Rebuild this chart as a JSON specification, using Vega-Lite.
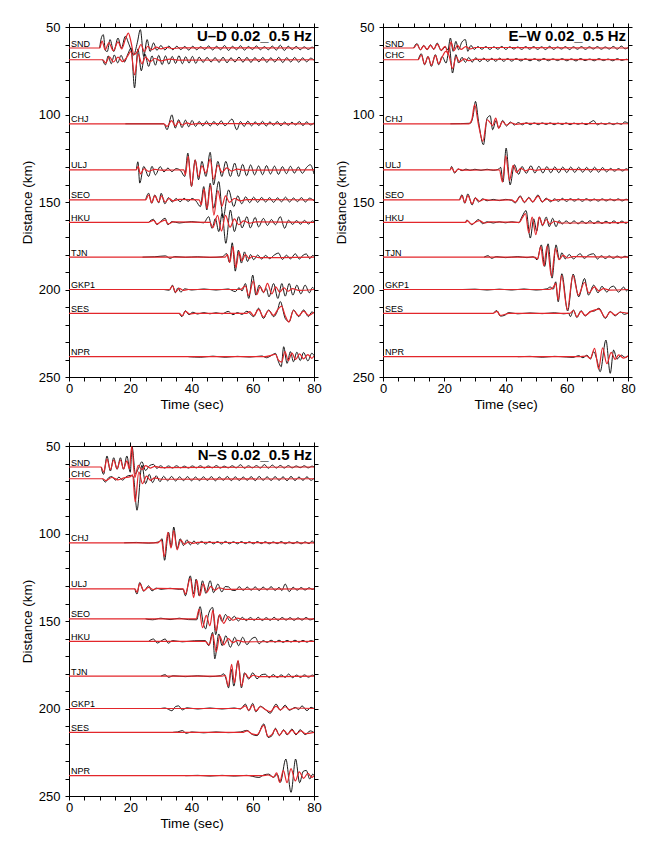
{
"$schema":"https://vega.github.io/schema/vega-lite/v6.json",
"background":"white",
"padding":{"left":19,"top":20,"right":5,"bottom":5},
"config":{"view":{"stroke":"black","strokeWidth":1},
"axis":{"grid":false,"domainColor":"black","tickColor":"black","labelColor":"black","titleColor":"black","labelFont":"Liberation Sans","titleFont":"Liberation Sans","labelFontSize":13,"titleFontSize":13.5,"titleFontWeight":"normal","tickSize":4,"domainWidth":1,"tickWidth":1,"labelFlush":false,"labelOverlap":false}},
"datasets":{
"lab":[{"s":"SND","y":62},{"s":"CHC","y":68.7},{"s":"CHJ","y":105.3},{"s":"ULJ","y":131.6},{"s":"SEO","y":148.8},{"s":"HKU","y":161.6},{"s":"TJN","y":181.5},{"s":"GKP1","y":200},{"s":"SES","y":213.6},{"s":"NPR","y":238.4}],
"U_o":[
{"i":"SND","t":10,"y":62},{"i":"SND","t":10.6,"y":56},{"i":"SND","t":11.2,"y":54.4},{"i":"SND","t":11.9,"y":63.5},{"i":"SND","t":12.5,"y":64},{"i":"SND","t":13.4,"y":57.2},{"i":"SND","t":14.6,"y":64},{"i":"SND","t":16,"y":56.3},{"i":"SND","t":17.1,"y":62},{"i":"SND","t":18.4,"y":55.3},{"i":"SND","t":19.6,"y":60},{"i":"SND","t":21.1,"y":66},{"i":"SND","t":22.3,"y":59},{"i":"SND","t":23.3,"y":51.5},{"i":"SND","t":24.4,"y":66.8},{"i":"SND","t":25.5,"y":57.2},{"i":"SND","t":26.5,"y":64},{"i":"SND","t":27.6,"y":59.1},{"i":"SND","t":28.7,"y":63.3},{"i":"SND","t":30,"y":60.6},{"i":"SND","t":31.3,"y":63.1},{"i":"SND","t":32.6,"y":60.9},{"i":"SND","t":33.9,"y":63},{"i":"SND","t":35.2,"y":61},{"i":"SND","t":36.5,"y":62.9},{"i":"SND","t":37.8,"y":61.1},{"i":"SND","t":39.1,"y":63.2},{"i":"SND","t":40.4,"y":61},{"i":"SND","t":41.7,"y":63},{"i":"SND","t":43,"y":61.2},{"i":"SND","t":44.3,"y":62.9},{"i":"SND","t":45.6,"y":60.8},{"i":"SND","t":46.9,"y":63.1},{"i":"SND","t":48.2,"y":61},{"i":"SND","t":49.5,"y":63},{"i":"SND","t":50.8,"y":60.6},{"i":"SND","t":52.1,"y":63.4},{"i":"SND","t":53.4,"y":61},{"i":"SND","t":54.7,"y":63},{"i":"SND","t":56,"y":60.7},{"i":"SND","t":57.3,"y":63.2},{"i":"SND","t":58.6,"y":61.1},{"i":"SND","t":59.9,"y":62.9},{"i":"SND","t":61.2,"y":60.8},{"i":"SND","t":62.5,"y":63},{"i":"SND","t":63.8,"y":61.2},{"i":"SND","t":65.1,"y":63},{"i":"SND","t":66.4,"y":60.9},{"i":"SND","t":67.7,"y":63.2},{"i":"SND","t":69,"y":60.4},{"i":"SND","t":70.3,"y":63.4},{"i":"SND","t":71.6,"y":61},{"i":"SND","t":72.9,"y":62.9},{"i":"SND","t":74.2,"y":61.1},{"i":"SND","t":75.5,"y":63},{"i":"SND","t":76.8,"y":61.3},{"i":"SND","t":78.1,"y":62.8},{"i":"SND","t":79.4,"y":61.5},{"i":"SND","t":80,"y":62},
{"i":"CHC","t":11,"y":68.7},{"i":"CHC","t":11.9,"y":71.6},{"i":"CHC","t":12.8,"y":66.5},{"i":"CHC","t":13.8,"y":71},{"i":"CHC","t":14.8,"y":66},{"i":"CHC","t":15.9,"y":70.5},{"i":"CHC","t":17,"y":66.2},{"i":"CHC","t":18.1,"y":70},{"i":"CHC","t":19.2,"y":65.5},{"i":"CHC","t":20.3,"y":62},{"i":"CHC","t":21.4,"y":84.8},{"i":"CHC","t":22.5,"y":62.5},{"i":"CHC","t":23.6,"y":75},{"i":"CHC","t":24.8,"y":65.5},{"i":"CHC","t":26,"y":72.5},{"i":"CHC","t":27.1,"y":66.5},{"i":"CHC","t":28.2,"y":71.8},{"i":"CHC","t":29.3,"y":66.2},{"i":"CHC","t":30.4,"y":71.5},{"i":"CHC","t":31.5,"y":66.5},{"i":"CHC","t":32.6,"y":71.2},{"i":"CHC","t":33.7,"y":66.8},{"i":"CHC","t":34.8,"y":70.8},{"i":"CHC","t":35.9,"y":66.4},{"i":"CHC","t":37,"y":71},{"i":"CHC","t":38.1,"y":67},{"i":"CHC","t":39.2,"y":70.6},{"i":"CHC","t":40.3,"y":66.8},{"i":"CHC","t":41.4,"y":70.8},{"i":"CHC","t":42.5,"y":67.2},{"i":"CHC","t":43.8,"y":70.2},{"i":"CHC","t":45.1,"y":67.4},{"i":"CHC","t":46.4,"y":70},{"i":"CHC","t":47.7,"y":67.5},{"i":"CHC","t":49,"y":70.2},{"i":"CHC","t":50.3,"y":67.3},{"i":"CHC","t":51.6,"y":70.4},{"i":"CHC","t":52.9,"y":67.6},{"i":"CHC","t":54.2,"y":70},{"i":"CHC","t":55.5,"y":67.2},{"i":"CHC","t":56.8,"y":70.1},{"i":"CHC","t":58.1,"y":67.4},{"i":"CHC","t":59.4,"y":70.2},{"i":"CHC","t":60.7,"y":67.5},{"i":"CHC","t":62,"y":69.9},{"i":"CHC","t":63.3,"y":67.4},{"i":"CHC","t":64.6,"y":70.2},{"i":"CHC","t":65.9,"y":67.6},{"i":"CHC","t":67.2,"y":70},{"i":"CHC","t":68.5,"y":67.3},{"i":"CHC","t":69.8,"y":70.3},{"i":"CHC","t":71.1,"y":67.5},{"i":"CHC","t":72.4,"y":70},{"i":"CHC","t":73.7,"y":67.4},{"i":"CHC","t":75,"y":70.1},{"i":"CHC","t":76.3,"y":67.6},{"i":"CHC","t":77.6,"y":69.9},{"i":"CHC","t":78.9,"y":67.8},{"i":"CHC","t":80,"y":69},
{"i":"CHJ","t":18.4,"y":105.3},{"i":"CHJ","t":31,"y":105.3},{"i":"CHJ","t":32,"y":108.7},{"i":"CHJ","t":33.6,"y":100.2},{"i":"CHJ","t":34.7,"y":107.8},{"i":"CHJ","t":35.8,"y":103},{"i":"CHJ","t":36.9,"y":107.5},{"i":"CHJ","t":38,"y":103.2},{"i":"CHJ","t":39.1,"y":107},{"i":"CHJ","t":40.2,"y":103.4},{"i":"CHJ","t":41.3,"y":106.8},{"i":"CHJ","t":42.5,"y":104},{"i":"CHJ","t":43.7,"y":106.5},{"i":"CHJ","t":44.9,"y":103.8},{"i":"CHJ","t":46.1,"y":106.6},{"i":"CHJ","t":47.3,"y":104},{"i":"CHJ","t":48.5,"y":106.2},{"i":"CHJ","t":49.7,"y":103.6},{"i":"CHJ","t":50.9,"y":106.4},{"i":"CHJ","t":52.1,"y":104.5},{"i":"CHJ","t":53.2,"y":102.6},{"i":"CHJ","t":54.8,"y":108.7},{"i":"CHJ","t":56,"y":104},{"i":"CHJ","t":57.2,"y":106.8},{"i":"CHJ","t":58.4,"y":103.8},{"i":"CHJ","t":59.6,"y":106.5},{"i":"CHJ","t":60.8,"y":104.2},{"i":"CHJ","t":62,"y":106.3},{"i":"CHJ","t":63.2,"y":103.9},{"i":"CHJ","t":64.4,"y":106.6},{"i":"CHJ","t":65.6,"y":104.2},{"i":"CHJ","t":66.8,"y":106.2},{"i":"CHJ","t":68,"y":104},{"i":"CHJ","t":69.2,"y":106.4},{"i":"CHJ","t":70.4,"y":104.3},{"i":"CHJ","t":71.6,"y":106.2},{"i":"CHJ","t":72.8,"y":104.4},{"i":"CHJ","t":74,"y":106},{"i":"CHJ","t":75.2,"y":104},{"i":"CHJ","t":76.4,"y":106.3},{"i":"CHJ","t":77.6,"y":104.2},{"i":"CHJ","t":78.8,"y":106},{"i":"CHJ","t":80,"y":104.8},
{"i":"ULJ","t":22,"y":131.6},{"i":"ULJ","t":22.5,"y":127},{"i":"ULJ","t":23.1,"y":139.2},{"i":"ULJ","t":24.4,"y":129.7},{"i":"ULJ","t":26,"y":135.4},{"i":"ULJ","t":27.1,"y":129.6},{"i":"ULJ","t":28.2,"y":134.5},{"i":"ULJ","t":29.8,"y":129.8},{"i":"ULJ","t":31,"y":132.8},{"i":"ULJ","t":32.3,"y":130.6},{"i":"ULJ","t":33.6,"y":132.6},{"i":"ULJ","t":35,"y":130.9},{"i":"ULJ","t":36.5,"y":132.2},{"i":"ULJ","t":37.8,"y":135.4},{"i":"ULJ","t":38.8,"y":122.1},{"i":"ULJ","t":40,"y":141.1},{"i":"ULJ","t":41.2,"y":125.9},{"i":"ULJ","t":42.3,"y":137.3},{"i":"ULJ","t":43.4,"y":126.8},{"i":"ULJ","t":44.7,"y":135.4},{"i":"ULJ","t":46.1,"y":121.6},{"i":"ULJ","t":47.2,"y":140.2},{"i":"ULJ","t":48.6,"y":126.8},{"i":"ULJ","t":49.9,"y":135.4},{"i":"ULJ","t":51.2,"y":126.8},{"i":"ULJ","t":52.7,"y":135.4},{"i":"ULJ","t":54.1,"y":127.8},{"i":"ULJ","t":55.4,"y":135.4},{"i":"ULJ","t":56.7,"y":128.5},{"i":"ULJ","t":58,"y":135},{"i":"ULJ","t":59.3,"y":128.8},{"i":"ULJ","t":60.6,"y":134.5},{"i":"ULJ","t":61.9,"y":129.4},{"i":"ULJ","t":63.2,"y":134.4},{"i":"ULJ","t":64.5,"y":129.2},{"i":"ULJ","t":65.8,"y":134},{"i":"ULJ","t":67.1,"y":129.5},{"i":"ULJ","t":68.4,"y":134.2},{"i":"ULJ","t":69.7,"y":129.8},{"i":"ULJ","t":71,"y":133.8},{"i":"ULJ","t":72.3,"y":129.6},{"i":"ULJ","t":73.6,"y":133.5},{"i":"ULJ","t":74.9,"y":130},{"i":"ULJ","t":76.2,"y":133.6},{"i":"ULJ","t":77.5,"y":130.4},{"i":"ULJ","t":78.8,"y":128.7},{"i":"ULJ","t":80,"y":134},
{"i":"SEO","t":25,"y":148.8},{"i":"SEO","t":26,"y":145},{"i":"SEO","t":27,"y":150.7},{"i":"SEO","t":28,"y":146},{"i":"SEO","t":29.3,"y":150.5},{"i":"SEO","t":30.1,"y":145},{"i":"SEO","t":31.3,"y":151},{"i":"SEO","t":32.5,"y":147.5},{"i":"SEO","t":33.7,"y":150},{"i":"SEO","t":35,"y":148},{"i":"SEO","t":36.3,"y":149.8},{"i":"SEO","t":37.6,"y":147.9},{"i":"SEO","t":38.9,"y":149.6},{"i":"SEO","t":40.2,"y":148},{"i":"SEO","t":41.5,"y":149.5},{"i":"SEO","t":42.9,"y":152.6},{"i":"SEO","t":44,"y":141.2},{"i":"SEO","t":45,"y":154.5},{"i":"SEO","t":46.1,"y":139.3},{"i":"SEO","t":47.2,"y":153.5},{"i":"SEO","t":48.9,"y":138.3},{"i":"SEO","t":50.3,"y":159},{"i":"SEO","t":52.1,"y":143.1},{"i":"SEO","t":53.8,"y":152.6},{"i":"SEO","t":55.1,"y":146.5},{"i":"SEO","t":56.4,"y":151},{"i":"SEO","t":57.7,"y":147},{"i":"SEO","t":59,"y":150.4},{"i":"SEO","t":60.3,"y":147.2},{"i":"SEO","t":61.6,"y":150.2},{"i":"SEO","t":62.9,"y":147.4},{"i":"SEO","t":64.2,"y":150},{"i":"SEO","t":65.5,"y":147.5},{"i":"SEO","t":66.8,"y":150.2},{"i":"SEO","t":68.1,"y":147.6},{"i":"SEO","t":69.4,"y":149.9},{"i":"SEO","t":70.7,"y":147.2},{"i":"SEO","t":72,"y":150},{"i":"SEO","t":73.3,"y":147.7},{"i":"SEO","t":74.6,"y":149.8},{"i":"SEO","t":75.9,"y":147.5},{"i":"SEO","t":77.2,"y":150},{"i":"SEO","t":78.5,"y":147.8},{"i":"SEO","t":80,"y":149.3},
{"i":"HKU","t":26,"y":161.6},{"i":"HKU","t":27.6,"y":159.9},{"i":"HKU","t":28.7,"y":162.9},{"i":"HKU","t":30,"y":161},{"i":"HKU","t":31.4,"y":159.3},{"i":"HKU","t":32.3,"y":163},{"i":"HKU","t":33.6,"y":161.2},{"i":"HKU","t":36,"y":162},{"i":"HKU","t":40,"y":161.2},{"i":"HKU","t":44,"y":161.9},{"i":"HKU","t":45.6,"y":158.4},{"i":"HKU","t":46.7,"y":165},{"i":"HKU","t":47.8,"y":159.5},{"i":"HKU","t":48.9,"y":166.9},{"i":"HKU","t":50,"y":156.6},{"i":"HKU","t":51.2,"y":173.6},{"i":"HKU","t":52.7,"y":154.6},{"i":"HKU","t":54,"y":166.9},{"i":"HKU","t":55.4,"y":158.4},{"i":"HKU","t":56.5,"y":164.8},{"i":"HKU","t":58.1,"y":158.4},{"i":"HKU","t":59.2,"y":164.8},{"i":"HKU","t":60.8,"y":158.8},{"i":"HKU","t":61.9,"y":164.2},{"i":"HKU","t":63.5,"y":159.4},{"i":"HKU","t":64.8,"y":163.4},{"i":"HKU","t":66.1,"y":160},{"i":"HKU","t":67.4,"y":163},{"i":"HKU","t":69,"y":158.4},{"i":"HKU","t":70.4,"y":165},{"i":"HKU","t":71.7,"y":160.4},{"i":"HKU","t":73,"y":162.8},{"i":"HKU","t":74.3,"y":160.6},{"i":"HKU","t":75.6,"y":162.7},{"i":"HKU","t":76.9,"y":160.5},{"i":"HKU","t":78.2,"y":162.6},{"i":"HKU","t":79.5,"y":160.8},{"i":"HKU","t":80,"y":161.3},
{"i":"TJN","t":24,"y":181.5},{"i":"TJN","t":28,"y":181.3},{"i":"TJN","t":31.5,"y":180.8},{"i":"TJN","t":33,"y":182.2},{"i":"TJN","t":34.5,"y":181.2},{"i":"TJN","t":38,"y":181.6},{"i":"TJN","t":42,"y":181.3},{"i":"TJN","t":46,"y":181.7},{"i":"TJN","t":50,"y":181.3},{"i":"TJN","t":51.5,"y":179.5},{"i":"TJN","t":52.4,"y":184.5},{"i":"TJN","t":53.3,"y":173.3},{"i":"TJN","t":54.3,"y":189.5},{"i":"TJN","t":55.3,"y":177.5},{"i":"TJN","t":56.3,"y":184.9},{"i":"TJN","t":57.3,"y":178.5},{"i":"TJN","t":58.3,"y":184},{"i":"TJN","t":59.3,"y":180},{"i":"TJN","t":60.3,"y":183},{"i":"TJN","t":61.6,"y":180.3},{"i":"TJN","t":62.9,"y":182.6},{"i":"TJN","t":64.2,"y":180.5},{"i":"TJN","t":65.5,"y":182.4},{"i":"TJN","t":66.8,"y":180.6},{"i":"TJN","t":68.4,"y":179.2},{"i":"TJN","t":69.7,"y":182.8},{"i":"TJN","t":71,"y":180.4},{"i":"TJN","t":72.3,"y":182.5},{"i":"TJN","t":73.9,"y":179.6},{"i":"TJN","t":75.2,"y":182.6},{"i":"TJN","t":76.5,"y":180.3},{"i":"TJN","t":77.5,"y":179.7},{"i":"TJN","t":78.6,"y":182.4},{"i":"TJN","t":79.6,"y":180.5},{"i":"TJN","t":80,"y":181},
{"i":"GKP1","t":31,"y":200},{"i":"GKP1","t":32.8,"y":200.4},{"i":"GKP1","t":33.8,"y":197.5},{"i":"GKP1","t":34.7,"y":201.9},{"i":"GKP1","t":35.6,"y":199},{"i":"GKP1","t":36.5,"y":201.5},{"i":"GKP1","t":37.8,"y":199.6},{"i":"GKP1","t":40,"y":200.3},{"i":"GKP1","t":44,"y":199.7},{"i":"GKP1","t":48,"y":200.3},{"i":"GKP1","t":52,"y":199.7},{"i":"GKP1","t":54.3,"y":201.2},{"i":"GKP1","t":55.5,"y":199},{"i":"GKP1","t":56.5,"y":200.8},{"i":"GKP1","t":57.6,"y":196.6},{"i":"GKP1","t":58.7,"y":205.1},{"i":"GKP1","t":60,"y":191.8},{"i":"GKP1","t":61,"y":203.2},{"i":"GKP1","t":62.1,"y":197.5},{"i":"GKP1","t":63.5,"y":201.8},{"i":"GKP1","t":64.4,"y":199.4},{"i":"GKP1","t":65.3,"y":204.2},{"i":"GKP1","t":66.8,"y":196.6},{"i":"GKP1","t":68.2,"y":205.1},{"i":"GKP1","t":69.5,"y":196.6},{"i":"GKP1","t":70.6,"y":203.8},{"i":"GKP1","t":71.9,"y":196.6},{"i":"GKP1","t":73.1,"y":203.2},{"i":"GKP1","t":74.4,"y":197.5},{"i":"GKP1","t":75.7,"y":202.5},{"i":"GKP1","t":77.1,"y":197.5},{"i":"GKP1","t":78.5,"y":201.9},{"i":"GKP1","t":79.5,"y":198.8},{"i":"GKP1","t":80,"y":199.5},
{"i":"SES","t":36,"y":213.6},{"i":"SES","t":36.9,"y":215.5},{"i":"SES","t":38,"y":212.1},{"i":"SES","t":39.2,"y":214.4},{"i":"SES","t":40.4,"y":213},{"i":"SES","t":42,"y":214},{"i":"SES","t":44,"y":213.2},{"i":"SES","t":46,"y":213.9},{"i":"SES","t":48,"y":213.3},{"i":"SES","t":50,"y":213.9},{"i":"SES","t":52,"y":212.5},{"i":"SES","t":53.5,"y":214.4},{"i":"SES","t":55,"y":213.2},{"i":"SES","t":56.5,"y":214.2},{"i":"SES","t":58.1,"y":212.4},{"i":"SES","t":60.3,"y":215.5},{"i":"SES","t":61.9,"y":210.7},{"i":"SES","t":63.5,"y":216.5},{"i":"SES","t":65.2,"y":211.7},{"i":"SES","t":66.8,"y":215.5},{"i":"SES","t":68,"y":212.5},{"i":"SES","t":69,"y":206.9},{"i":"SES","t":70.6,"y":216.5},{"i":"SES","t":71.9,"y":218.4},{"i":"SES","t":73.3,"y":211.7},{"i":"SES","t":75,"y":215.5},{"i":"SES","t":76.6,"y":211.7},{"i":"SES","t":78.2,"y":215.5},{"i":"SES","t":79.3,"y":212.8},{"i":"SES","t":80,"y":213.5},
{"i":"NPR","t":39,"y":238.4},{"i":"NPR","t":43,"y":238.7},{"i":"NPR","t":47,"y":238.1},{"i":"NPR","t":51,"y":238.7},{"i":"NPR","t":55,"y":238.2},{"i":"NPR","t":59,"y":238.6},{"i":"NPR","t":63,"y":238},{"i":"NPR","t":64.5,"y":239},{"i":"NPR","t":66,"y":237.8},{"i":"NPR","t":67.4,"y":236.5},{"i":"NPR","t":68.4,"y":241.3},{"i":"NPR","t":69.3,"y":244.1},{"i":"NPR","t":70.1,"y":232.7},{"i":"NPR","t":71.2,"y":242.2},{"i":"NPR","t":72.3,"y":235.5},{"i":"NPR","t":73.3,"y":241.3},{"i":"NPR","t":74.4,"y":235.8},{"i":"NPR","t":75.5,"y":240.6},{"i":"NPR","t":76.6,"y":236},{"i":"NPR","t":78,"y":240.8},{"i":"NPR","t":79.3,"y":236.4},{"i":"NPR","t":80,"y":237.8}
],
"U_s":[
{"i":"SND","t":0,"y":62},{"i":"SND","t":10,"y":62},{"i":"SND","t":10.8,"y":58},{"i":"SND","t":11.8,"y":63},{"i":"SND","t":13,"y":59},{"i":"SND","t":14.5,"y":63.5},{"i":"SND","t":16,"y":58.5},{"i":"SND","t":17.2,"y":62.5},{"i":"SND","t":18.4,"y":57},{"i":"SND","t":19.4,"y":53.5},{"i":"SND","t":20.3,"y":59},{"i":"SND","t":21.2,"y":65.8},{"i":"SND","t":22.5,"y":63.5},{"i":"SND","t":23.5,"y":60},{"i":"SND","t":24.6,"y":64},{"i":"SND","t":25.7,"y":61},{"i":"SND","t":27,"y":63},{"i":"SND","t":28.5,"y":61.5},{"i":"SND","t":30,"y":62.5},{"i":"SND","t":32,"y":61.6},{"i":"SND","t":34,"y":62.4},{"i":"SND","t":36,"y":61.9},{"i":"SND","t":80,"y":62},
{"i":"CHC","t":0,"y":68.7},{"i":"CHC","t":11,"y":68.7},{"i":"CHC","t":12,"y":70.5},{"i":"CHC","t":13.2,"y":67},{"i":"CHC","t":14.5,"y":70},{"i":"CHC","t":16,"y":67.2},{"i":"CHC","t":17.5,"y":69.8},{"i":"CHC","t":19,"y":67},{"i":"CHC","t":20.2,"y":64},{"i":"CHC","t":21.4,"y":77.3},{"i":"CHC","t":22.6,"y":65.7},{"i":"CHC","t":23.8,"y":71},{"i":"CHC","t":25,"y":67.2},{"i":"CHC","t":26.5,"y":69.8},{"i":"CHC","t":28,"y":68},{"i":"CHC","t":30,"y":69.3},{"i":"CHC","t":33,"y":68.3},{"i":"CHC","t":36,"y":68.9},{"i":"CHC","t":80,"y":68.7},
{"i":"CHJ","t":0,"y":105.3},{"i":"CHJ","t":31,"y":105.3},{"i":"CHJ","t":32,"y":106.8},{"i":"CHJ","t":33.5,"y":103.5},{"i":"CHJ","t":34.7,"y":106.5},{"i":"CHJ","t":35.8,"y":104.2},{"i":"CHJ","t":37,"y":106},{"i":"CHJ","t":38.5,"y":104.8},{"i":"CHJ","t":40,"y":105.6},{"i":"CHJ","t":42,"y":105.2},{"i":"CHJ","t":80,"y":105.3},
{"i":"ULJ","t":0,"y":131.6},{"i":"ULJ","t":22,"y":131.6},{"i":"ULJ","t":22.6,"y":129.6},{"i":"ULJ","t":23.3,"y":134},{"i":"ULJ","t":24.5,"y":131},{"i":"ULJ","t":26,"y":132.5},{"i":"ULJ","t":28,"y":131.3},{"i":"ULJ","t":30,"y":131.8},{"i":"ULJ","t":37.5,"y":131.6},{"i":"ULJ","t":38,"y":134.6},{"i":"ULJ","t":38.9,"y":123.8},{"i":"ULJ","t":40,"y":141},{"i":"ULJ","t":41.2,"y":126},{"i":"ULJ","t":42.3,"y":135.6},{"i":"ULJ","t":43.4,"y":129.4},{"i":"ULJ","t":44.7,"y":133.5},{"i":"ULJ","t":46.1,"y":125.5},{"i":"ULJ","t":47.2,"y":137},{"i":"ULJ","t":48.6,"y":129},{"i":"ULJ","t":50,"y":133},{"i":"ULJ","t":51.5,"y":130.5},{"i":"ULJ","t":53,"y":132.3},{"i":"ULJ","t":55,"y":131.2},{"i":"ULJ","t":57,"y":131.8},{"i":"ULJ","t":80,"y":131.6},
{"i":"SEO","t":0,"y":148.8},{"i":"SEO","t":25,"y":148.8},{"i":"SEO","t":26,"y":146},{"i":"SEO","t":27,"y":150.3},{"i":"SEO","t":28,"y":146.5},{"i":"SEO","t":29.3,"y":150},{"i":"SEO","t":30.2,"y":146.5},{"i":"SEO","t":31.4,"y":150},{"i":"SEO","t":32.7,"y":148},{"i":"SEO","t":34,"y":149.4},{"i":"SEO","t":36,"y":148.5},{"i":"SEO","t":42.5,"y":148.8},{"i":"SEO","t":43.2,"y":151.5},{"i":"SEO","t":44.1,"y":142.5},{"i":"SEO","t":45.1,"y":153.8},{"i":"SEO","t":46.2,"y":140.5},{"i":"SEO","t":47.3,"y":157.5},{"i":"SEO","t":48.6,"y":143.5},{"i":"SEO","t":49.9,"y":152.5},{"i":"SEO","t":51.1,"y":146.5},{"i":"SEO","t":52.4,"y":150.2},{"i":"SEO","t":54,"y":148},{"i":"SEO","t":56,"y":149.3},{"i":"SEO","t":58,"y":148.6},{"i":"SEO","t":80,"y":148.8},
{"i":"HKU","t":0,"y":161.6},{"i":"HKU","t":26,"y":161.6},{"i":"HKU","t":27.6,"y":160.5},{"i":"HKU","t":28.7,"y":162.5},{"i":"HKU","t":30,"y":161.3},{"i":"HKU","t":31.4,"y":160.3},{"i":"HKU","t":32.4,"y":162.5},{"i":"HKU","t":34,"y":161.4},{"i":"HKU","t":46,"y":161.6},{"i":"HKU","t":47,"y":164.6},{"i":"HKU","t":48.5,"y":157.6},{"i":"HKU","t":49.8,"y":166.6},{"i":"HKU","t":51.1,"y":157.6},{"i":"HKU","t":52.6,"y":164.4},{"i":"HKU","t":54,"y":159.6},{"i":"HKU","t":55.4,"y":163},{"i":"HKU","t":57,"y":160.8},{"i":"HKU","t":59,"y":162.1},{"i":"HKU","t":61,"y":161.3},{"i":"HKU","t":80,"y":161.6},
{"i":"TJN","t":0,"y":181.5},{"i":"TJN","t":51,"y":181.5},{"i":"TJN","t":51.7,"y":180},{"i":"TJN","t":52.5,"y":184.5},{"i":"TJN","t":53.5,"y":175.5},{"i":"TJN","t":54.5,"y":187.5},{"i":"TJN","t":55.5,"y":178.5},{"i":"TJN","t":56.5,"y":183.5},{"i":"TJN","t":57.6,"y":180},{"i":"TJN","t":58.8,"y":182.3},{"i":"TJN","t":60,"y":181},{"i":"TJN","t":62,"y":181.8},{"i":"TJN","t":80,"y":181.5},
{"i":"GKP1","t":0,"y":200},{"i":"GKP1","t":32.8,"y":200},{"i":"GKP1","t":33.8,"y":198},{"i":"GKP1","t":34.8,"y":201.5},{"i":"GKP1","t":36,"y":199.4},{"i":"GKP1","t":37.5,"y":200.5},{"i":"GKP1","t":39,"y":200},{"i":"GKP1","t":56,"y":200},{"i":"GKP1","t":57.6,"y":198},{"i":"GKP1","t":58.7,"y":203.5},{"i":"GKP1","t":60.2,"y":195},{"i":"GKP1","t":61.3,"y":203},{"i":"GKP1","t":62.4,"y":198.5},{"i":"GKP1","t":63.6,"y":201.5},{"i":"GKP1","t":64.8,"y":196.5},{"i":"GKP1","t":66.2,"y":202.5},{"i":"GKP1","t":67.5,"y":198.5},{"i":"GKP1","t":68.8,"y":201.5},{"i":"GKP1","t":70.2,"y":199},{"i":"GKP1","t":71.5,"y":201},{"i":"GKP1","t":73,"y":199.5},{"i":"GKP1","t":75,"y":200.5},{"i":"GKP1","t":80,"y":200},
{"i":"SES","t":0,"y":213.6},{"i":"SES","t":36,"y":213.6},{"i":"SES","t":37,"y":215},{"i":"SES","t":38,"y":212.5},{"i":"SES","t":39.5,"y":214},{"i":"SES","t":41,"y":213.6},{"i":"SES","t":58,"y":213.6},{"i":"SES","t":59,"y":212.6},{"i":"SES","t":60.3,"y":215},{"i":"SES","t":61.9,"y":211.4},{"i":"SES","t":63.5,"y":215.8},{"i":"SES","t":65.2,"y":212},{"i":"SES","t":66.8,"y":214.8},{"i":"SES","t":68.2,"y":211.4},{"i":"SES","t":69.4,"y":209.5},{"i":"SES","t":70.5,"y":214.5},{"i":"SES","t":71.8,"y":218.6},{"i":"SES","t":73.3,"y":212},{"i":"SES","t":75,"y":215},{"i":"SES","t":76.6,"y":212.3},{"i":"SES","t":78.2,"y":214.8},{"i":"SES","t":80,"y":213},
{"i":"NPR","t":0,"y":238.4},{"i":"NPR","t":64,"y":238.4},{"i":"NPR","t":66,"y":237.6},{"i":"NPR","t":67.4,"y":237},{"i":"NPR","t":68.4,"y":240.4},{"i":"NPR","t":69.4,"y":241.5},{"i":"NPR","t":70.5,"y":235.5},{"i":"NPR","t":71.6,"y":240.6},{"i":"NPR","t":72.8,"y":236.3},{"i":"NPR","t":74,"y":240},{"i":"NPR","t":75.3,"y":236.8},{"i":"NPR","t":76.6,"y":239.6},{"i":"NPR","t":78,"y":237.2},{"i":"NPR","t":79.3,"y":239.3},{"i":"NPR","t":80,"y":238}
],
"E_o":[
{"i":"SND","t":10,"y":62},{"i":"SND","t":11.1,"y":59.5},{"i":"SND","t":12.2,"y":63},{"i":"SND","t":13.3,"y":60.5},{"i":"SND","t":14.4,"y":63},{"i":"SND","t":15.5,"y":60.2},{"i":"SND","t":16.6,"y":62.8},{"i":"SND","t":17.7,"y":59.2},{"i":"SND","t":19,"y":63.5},{"i":"SND","t":20.3,"y":61.5},{"i":"SND","t":21.2,"y":63},{"i":"SND","t":22,"y":56.3},{"i":"SND","t":22.9,"y":63.9},{"i":"SND","t":23.8,"y":58.2},{"i":"SND","t":24.7,"y":63},{"i":"SND","t":25.7,"y":58.8},{"i":"SND","t":26.9,"y":57.2},{"i":"SND","t":27.7,"y":63.9},{"i":"SND","t":28.7,"y":60.5},{"i":"SND","t":29.8,"y":62.8},{"i":"SND","t":31,"y":61.2},{"i":"SND","t":32.3,"y":62.7},{"i":"SND","t":33.6,"y":61.2},{"i":"SND","t":34.9,"y":62.8},{"i":"SND","t":36.2,"y":61.3},{"i":"SND","t":37.5,"y":62.7},{"i":"SND","t":38.8,"y":61.1},{"i":"SND","t":40.1,"y":62.8},{"i":"SND","t":41.4,"y":61.3},{"i":"SND","t":42.7,"y":62.6},{"i":"SND","t":44,"y":61.4},{"i":"SND","t":45.3,"y":62.8},{"i":"SND","t":46.6,"y":61.2},{"i":"SND","t":47.9,"y":62.7},{"i":"SND","t":49.2,"y":61.2},{"i":"SND","t":50.5,"y":62.8},{"i":"SND","t":51.8,"y":61.3},{"i":"SND","t":53.1,"y":62.9},{"i":"SND","t":54.4,"y":61},{"i":"SND","t":55.7,"y":62.8},{"i":"SND","t":57,"y":61.4},{"i":"SND","t":58.3,"y":62.6},{"i":"SND","t":59.6,"y":61.2},{"i":"SND","t":60.9,"y":62.9},{"i":"SND","t":62.2,"y":61.3},{"i":"SND","t":63.5,"y":62.7},{"i":"SND","t":64.8,"y":61.2},{"i":"SND","t":66.1,"y":62.8},{"i":"SND","t":67.4,"y":61.3},{"i":"SND","t":68.7,"y":62.6},{"i":"SND","t":70,"y":61.2},{"i":"SND","t":71.3,"y":62.7},{"i":"SND","t":72.6,"y":61.4},{"i":"SND","t":73.9,"y":62.6},{"i":"SND","t":75.2,"y":61.1},{"i":"SND","t":76.5,"y":62.7},{"i":"SND","t":77.8,"y":60.9},{"i":"SND","t":79.1,"y":62.5},{"i":"SND","t":80,"y":61.8},
{"i":"CHC","t":11.5,"y":68.7},{"i":"CHC","t":12.5,"y":65.3},{"i":"CHC","t":13.6,"y":71.6},{"i":"CHC","t":14.7,"y":66.8},{"i":"CHC","t":15.8,"y":72.5},{"i":"CHC","t":17.1,"y":65.8},{"i":"CHC","t":18.2,"y":71.6},{"i":"CHC","t":19.3,"y":66.8},{"i":"CHC","t":20.6,"y":70.6},{"i":"CHC","t":21.7,"y":62},{"i":"CHC","t":22.7,"y":76.3},{"i":"CHC","t":23.8,"y":65.8},{"i":"CHC","t":24.7,"y":70.6},{"i":"CHC","t":25.8,"y":67.3},{"i":"CHC","t":26.9,"y":70.2},{"i":"CHC","t":28,"y":67.4},{"i":"CHC","t":29.1,"y":70.1},{"i":"CHC","t":30.3,"y":67.6},{"i":"CHC","t":31.6,"y":69.8},{"i":"CHC","t":32.9,"y":67.8},{"i":"CHC","t":34.2,"y":69.7},{"i":"CHC","t":35.5,"y":67.9},{"i":"CHC","t":36.8,"y":69.6},{"i":"CHC","t":38.1,"y":67.8},{"i":"CHC","t":39.4,"y":69.6},{"i":"CHC","t":40.7,"y":68},{"i":"CHC","t":42,"y":69.5},{"i":"CHC","t":43.5,"y":68},{"i":"CHC","t":45,"y":69.4},{"i":"CHC","t":46.5,"y":68.1},{"i":"CHC","t":48,"y":69.3},{"i":"CHC","t":49.5,"y":68.1},{"i":"CHC","t":51,"y":69.4},{"i":"CHC","t":52.5,"y":68},{"i":"CHC","t":54,"y":69.3},{"i":"CHC","t":55.5,"y":68.2},{"i":"CHC","t":57,"y":69.2},{"i":"CHC","t":58.5,"y":68.1},{"i":"CHC","t":60,"y":69.3},{"i":"CHC","t":61.5,"y":68.2},{"i":"CHC","t":63,"y":69.4},{"i":"CHC","t":64.5,"y":68},{"i":"CHC","t":66,"y":69.2},{"i":"CHC","t":67.5,"y":68.3},{"i":"CHC","t":69,"y":69.3},{"i":"CHC","t":70.5,"y":68.1},{"i":"CHC","t":72,"y":69.2},{"i":"CHC","t":73.5,"y":68.3},{"i":"CHC","t":75,"y":69.3},{"i":"CHC","t":76.5,"y":68.1},{"i":"CHC","t":78,"y":69.1},{"i":"CHC","t":79.5,"y":68.4},{"i":"CHC","t":80,"y":68.7},
{"i":"CHJ","t":22,"y":105.3},{"i":"CHJ","t":28.5,"y":105},{"i":"CHJ","t":29.4,"y":101},{"i":"CHJ","t":30.2,"y":92.5},{"i":"CHJ","t":31.2,"y":104},{"i":"CHJ","t":32.8,"y":117.3},{"i":"CHJ","t":34,"y":102.1},{"i":"CHJ","t":35,"y":100.7},{"i":"CHJ","t":35.8,"y":108.7},{"i":"CHJ","t":36.9,"y":103.4},{"i":"CHJ","t":37.8,"y":107.8},{"i":"CHJ","t":39.1,"y":103.4},{"i":"CHJ","t":40.3,"y":106.6},{"i":"CHJ","t":41.6,"y":104.3},{"i":"CHJ","t":42.9,"y":106},{"i":"CHJ","t":44.2,"y":104.6},{"i":"CHJ","t":45.5,"y":105.9},{"i":"CHJ","t":46.8,"y":104.7},{"i":"CHJ","t":48.1,"y":105.8},{"i":"CHJ","t":49.4,"y":104.8},{"i":"CHJ","t":50.7,"y":105.8},{"i":"CHJ","t":52,"y":104.8},{"i":"CHJ","t":53.3,"y":105.7},{"i":"CHJ","t":54.6,"y":104.8},{"i":"CHJ","t":55.9,"y":105.8},{"i":"CHJ","t":57.2,"y":104.9},{"i":"CHJ","t":58.5,"y":105.7},{"i":"CHJ","t":59.8,"y":104.8},{"i":"CHJ","t":61.1,"y":105.8},{"i":"CHJ","t":62.4,"y":104.9},{"i":"CHJ","t":63.7,"y":105.6},{"i":"CHJ","t":65,"y":104.9},{"i":"CHJ","t":66.3,"y":105.8},{"i":"CHJ","t":67.6,"y":104.6},{"i":"CHJ","t":68.8,"y":103.5},{"i":"CHJ","t":70,"y":105.9},{"i":"CHJ","t":71.3,"y":104.9},{"i":"CHJ","t":72.6,"y":105.7},{"i":"CHJ","t":73.9,"y":104.8},{"i":"CHJ","t":75.2,"y":105.8},{"i":"CHJ","t":76.5,"y":104.9},{"i":"CHJ","t":77.8,"y":105.6},{"i":"CHJ","t":79,"y":104.2},{"i":"CHJ","t":80,"y":105},
{"i":"ULJ","t":22,"y":131.6},{"i":"ULJ","t":22.4,"y":129.7},{"i":"ULJ","t":23.4,"y":133.5},{"i":"ULJ","t":24.5,"y":131.1},{"i":"ULJ","t":25.8,"y":132.1},{"i":"ULJ","t":27.1,"y":131.2},{"i":"ULJ","t":28.4,"y":131.9},{"i":"ULJ","t":30,"y":131.3},{"i":"ULJ","t":32,"y":131.9},{"i":"ULJ","t":34,"y":131.3},{"i":"ULJ","t":36,"y":131.9},{"i":"ULJ","t":37.6,"y":131.4},{"i":"ULJ","t":38.4,"y":130.2},{"i":"ULJ","t":39.2,"y":138.5},{"i":"ULJ","t":40.2,"y":119.2},{"i":"ULJ","t":41.5,"y":140.2},{"i":"ULJ","t":42.9,"y":128.7},{"i":"ULJ","t":44.3,"y":134.2},{"i":"ULJ","t":45.4,"y":129.7},{"i":"ULJ","t":46.8,"y":133.6},{"i":"ULJ","t":48.3,"y":129.3},{"i":"ULJ","t":49.6,"y":133.4},{"i":"ULJ","t":50.9,"y":129.6},{"i":"ULJ","t":52.2,"y":133.4},{"i":"ULJ","t":53.5,"y":129.8},{"i":"ULJ","t":54.8,"y":133.3},{"i":"ULJ","t":56.1,"y":129.9},{"i":"ULJ","t":57.4,"y":133.3},{"i":"ULJ","t":58.7,"y":130},{"i":"ULJ","t":60,"y":133.2},{"i":"ULJ","t":61.3,"y":130},{"i":"ULJ","t":62.6,"y":133.1},{"i":"ULJ","t":63.9,"y":130.1},{"i":"ULJ","t":65.2,"y":133},{"i":"ULJ","t":66.5,"y":130.2},{"i":"ULJ","t":67.8,"y":133},{"i":"ULJ","t":69.1,"y":130.1},{"i":"ULJ","t":70.4,"y":133},{"i":"ULJ","t":71.7,"y":130.3},{"i":"ULJ","t":73,"y":132.8},{"i":"ULJ","t":74.3,"y":130.8},{"i":"ULJ","t":75.6,"y":132.4},{"i":"ULJ","t":76.9,"y":130.9},{"i":"ULJ","t":78.2,"y":132.3},{"i":"ULJ","t":79.5,"y":131},{"i":"ULJ","t":80,"y":131.6},
{"i":"SEO","t":25,"y":148.8},{"i":"SEO","t":25.8,"y":145.9},{"i":"SEO","t":26.7,"y":150.7},{"i":"SEO","t":27.7,"y":145.4},{"i":"SEO","t":29.1,"y":151.7},{"i":"SEO","t":30.1,"y":147.5},{"i":"SEO","t":31.2,"y":150},{"i":"SEO","t":32.5,"y":148.2},{"i":"SEO","t":34,"y":149.3},{"i":"SEO","t":36,"y":148.5},{"i":"SEO","t":38,"y":149.2},{"i":"SEO","t":40,"y":148.5},{"i":"SEO","t":42,"y":149.1},{"i":"SEO","t":43.2,"y":150.5},{"i":"SEO","t":44.8,"y":146.5},{"i":"SEO","t":46.2,"y":150.4},{"i":"SEO","t":47.6,"y":147.3},{"i":"SEO","t":48.9,"y":150.1},{"i":"SEO","t":50.6,"y":146},{"i":"SEO","t":52,"y":150.1},{"i":"SEO","t":53.3,"y":147.8},{"i":"SEO","t":54.7,"y":149.9},{"i":"SEO","t":56,"y":148.2},{"i":"SEO","t":57.3,"y":149.6},{"i":"SEO","t":58.6,"y":147.9},{"i":"SEO","t":59.9,"y":149.7},{"i":"SEO","t":61.2,"y":148.1},{"i":"SEO","t":62.5,"y":149.5},{"i":"SEO","t":63.8,"y":148.2},{"i":"SEO","t":65.1,"y":149.6},{"i":"SEO","t":66.4,"y":148.1},{"i":"SEO","t":67.7,"y":149.4},{"i":"SEO","t":69,"y":148.3},{"i":"SEO","t":70.3,"y":149.5},{"i":"SEO","t":71.6,"y":148.2},{"i":"SEO","t":72.9,"y":149.4},{"i":"SEO","t":74.2,"y":148.3},{"i":"SEO","t":75.5,"y":149.3},{"i":"SEO","t":76.8,"y":148.2},{"i":"SEO","t":78.1,"y":149.4},{"i":"SEO","t":79.4,"y":148.4},{"i":"SEO","t":80,"y":148.8},
{"i":"HKU","t":27,"y":161.6},{"i":"HKU","t":27.4,"y":160.3},{"i":"HKU","t":29,"y":163},{"i":"HKU","t":30.3,"y":161},{"i":"HKU","t":31.2,"y":160},{"i":"HKU","t":32.5,"y":162.4},{"i":"HKU","t":34,"y":161.3},{"i":"HKU","t":36,"y":162},{"i":"HKU","t":38,"y":161.3},{"i":"HKU","t":40,"y":161.9},{"i":"HKU","t":42,"y":161.3},{"i":"HKU","t":44.3,"y":161.8},{"i":"HKU","t":45.5,"y":158},{"i":"HKU","t":46.7,"y":154.9},{"i":"HKU","t":48.1,"y":170.6},{"i":"HKU","t":49.2,"y":159.6},{"i":"HKU","t":50.2,"y":166.6},{"i":"HKU","t":51.1,"y":158.6},{"i":"HKU","t":52.1,"y":163.6},{"i":"HKU","t":53.3,"y":158.6},{"i":"HKU","t":54.3,"y":164.1},{"i":"HKU","t":55.4,"y":159.3},{"i":"HKU","t":56.5,"y":164.1},{"i":"HKU","t":57.5,"y":160.6},{"i":"HKU","t":58.5,"y":162.6},{"i":"HKU","t":59.8,"y":160.8},{"i":"HKU","t":61.1,"y":162.4},{"i":"HKU","t":62.4,"y":160.8},{"i":"HKU","t":63.7,"y":162.5},{"i":"HKU","t":65,"y":160.9},{"i":"HKU","t":66.3,"y":162.3},{"i":"HKU","t":67.6,"y":160.7},{"i":"HKU","t":68.9,"y":162.4},{"i":"HKU","t":70.2,"y":160.9},{"i":"HKU","t":71.5,"y":162.3},{"i":"HKU","t":72.8,"y":161},{"i":"HKU","t":74.1,"y":162.2},{"i":"HKU","t":75.4,"y":160.8},{"i":"HKU","t":76.7,"y":162.3},{"i":"HKU","t":78,"y":160.9},{"i":"HKU","t":79.3,"y":162.2},{"i":"HKU","t":80,"y":161.5},
{"i":"TJN","t":33,"y":181.5},{"i":"TJN","t":34.3,"y":180.7},{"i":"TJN","t":35.5,"y":182.2},{"i":"TJN","t":37,"y":181.2},{"i":"TJN","t":40,"y":181.8},{"i":"TJN","t":44,"y":181.2},{"i":"TJN","t":47,"y":181.8},{"i":"TJN","t":49,"y":181.3},{"i":"TJN","t":50.3,"y":183},{"i":"TJN","t":51.7,"y":174.5},{"i":"TJN","t":52.8,"y":186.8},{"i":"TJN","t":53.9,"y":173.9},{"i":"TJN","t":55.2,"y":193.5},{"i":"TJN","t":56.5,"y":174.5},{"i":"TJN","t":57.6,"y":183},{"i":"TJN","t":58.4,"y":179},{"i":"TJN","t":59.5,"y":182.5},{"i":"TJN","t":60.8,"y":180},{"i":"TJN","t":62.2,"y":182.5},{"i":"TJN","t":63.5,"y":180.5},{"i":"TJN","t":64.4,"y":179.6},{"i":"TJN","t":65.7,"y":182.2},{"i":"TJN","t":67,"y":180.5},{"i":"TJN","t":68.8,"y":179.6},{"i":"TJN","t":70,"y":182.6},{"i":"TJN","t":71.3,"y":180.7},{"i":"TJN","t":72.6,"y":182.3},{"i":"TJN","t":73.9,"y":180.8},{"i":"TJN","t":75.2,"y":182.2},{"i":"TJN","t":76.5,"y":180.9},{"i":"TJN","t":77.8,"y":182},{"i":"TJN","t":79,"y":181},{"i":"TJN","t":80,"y":181.6},
{"i":"GKP1","t":26,"y":200},{"i":"GKP1","t":30,"y":199.8},{"i":"GKP1","t":34,"y":200.3},{"i":"GKP1","t":38,"y":199.8},{"i":"GKP1","t":42,"y":200.3},{"i":"GKP1","t":46,"y":199.7},{"i":"GKP1","t":50,"y":200.3},{"i":"GKP1","t":53.5,"y":199.6},{"i":"GKP1","t":54.6,"y":198.6},{"i":"GKP1","t":55.6,"y":199.8},{"i":"GKP1","t":56.4,"y":195.6},{"i":"GKP1","t":57.2,"y":207},{"i":"GKP1","t":58.4,"y":191},{"i":"GKP1","t":60.3,"y":212.3},{"i":"GKP1","t":62.1,"y":191.2},{"i":"GKP1","t":63.9,"y":204.2},{"i":"GKP1","t":65.8,"y":193.7},{"i":"GKP1","t":67.1,"y":203.2},{"i":"GKP1","t":68.8,"y":197.5},{"i":"GKP1","t":70.2,"y":201.9},{"i":"GKP1","t":71.5,"y":198.2},{"i":"GKP1","t":73.1,"y":201.5},{"i":"GKP1","t":74.2,"y":198.9},{"i":"GKP1","t":75.3,"y":198.1},{"i":"GKP1","t":76.9,"y":201.5},{"i":"GKP1","t":78.6,"y":198.6},{"i":"GKP1","t":79.5,"y":200.8},{"i":"GKP1","t":80,"y":200},
{"i":"SES","t":36,"y":213.6},{"i":"SES","t":37.2,"y":212.1},{"i":"SES","t":38.3,"y":215.2},{"i":"SES","t":39.7,"y":214.8},{"i":"SES","t":41,"y":213.2},{"i":"SES","t":44,"y":213.9},{"i":"SES","t":48,"y":213.4},{"i":"SES","t":52,"y":213.8},{"i":"SES","t":56,"y":213.3},{"i":"SES","t":59,"y":213.9},{"i":"SES","t":60.6,"y":213.6},{"i":"SES","t":61.2,"y":215.5},{"i":"SES","t":62.2,"y":211.7},{"i":"SES","t":63.3,"y":216},{"i":"SES","t":64.7,"y":212.1},{"i":"SES","t":66,"y":215.2},{"i":"SES","t":67.7,"y":212.5},{"i":"SES","t":69,"y":212.3},{"i":"SES","t":70.5,"y":210.7},{"i":"SES","t":72.6,"y":216.5},{"i":"SES","t":74.2,"y":212.5},{"i":"SES","t":75.8,"y":215.1},{"i":"SES","t":77.5,"y":212.8},{"i":"SES","t":78.8,"y":214.2},{"i":"SES","t":80,"y":213.4},
{"i":"NPR","t":44,"y":238.4},{"i":"NPR","t":48,"y":238.2},{"i":"NPR","t":52,"y":238.7},{"i":"NPR","t":56,"y":238.2},{"i":"NPR","t":60,"y":238.6},{"i":"NPR","t":62,"y":238.8},{"i":"NPR","t":63.9,"y":237.8},{"i":"NPR","t":65.3,"y":239},{"i":"NPR","t":66.6,"y":237.5},{"i":"NPR","t":67.7,"y":239.8},{"i":"NPR","t":68.8,"y":235.5},{"i":"NPR","t":69.9,"y":240.5},{"i":"NPR","t":70.9,"y":247},{"i":"NPR","t":72.8,"y":228.9},{"i":"NPR","t":74.2,"y":247.9},{"i":"NPR","t":75.3,"y":234.6},{"i":"NPR","t":76.4,"y":239.8},{"i":"NPR","t":77.8,"y":237.5},{"i":"NPR","t":79.1,"y":238.8},{"i":"NPR","t":80,"y":238}
],
"E_s":[
{"i":"SND","t":0,"y":62},{"i":"SND","t":10,"y":62},{"i":"SND","t":11.1,"y":60},{"i":"SND","t":12.2,"y":63},{"i":"SND","t":13.3,"y":60.8},{"i":"SND","t":14.4,"y":62.8},{"i":"SND","t":15.5,"y":60.5},{"i":"SND","t":16.6,"y":62.6},{"i":"SND","t":17.7,"y":59.8},{"i":"SND","t":19,"y":63.2},{"i":"SND","t":20.3,"y":61},{"i":"SND","t":21.3,"y":65.5},{"i":"SND","t":22.2,"y":58.5},{"i":"SND","t":23.2,"y":63.5},{"i":"SND","t":24.3,"y":60.5},{"i":"SND","t":25.5,"y":62.8},{"i":"SND","t":27,"y":61.2},{"i":"SND","t":28.5,"y":62.5},{"i":"SND","t":30,"y":61.7},{"i":"SND","t":80,"y":62},
{"i":"CHC","t":0,"y":68.7},{"i":"CHC","t":11.5,"y":68.7},{"i":"CHC","t":12.5,"y":66},{"i":"CHC","t":13.6,"y":71.2},{"i":"CHC","t":14.7,"y":67},{"i":"CHC","t":15.8,"y":71.8},{"i":"CHC","t":17.1,"y":66.3},{"i":"CHC","t":18.2,"y":71},{"i":"CHC","t":19.3,"y":67.3},{"i":"CHC","t":20.5,"y":63.9},{"i":"CHC","t":21.5,"y":66},{"i":"CHC","t":22.7,"y":73.7},{"i":"CHC","t":23.9,"y":67},{"i":"CHC","t":25,"y":70},{"i":"CHC","t":26.5,"y":68.2},{"i":"CHC","t":28,"y":69.2},{"i":"CHC","t":30,"y":68.5},{"i":"CHC","t":80,"y":68.7},
{"i":"CHJ","t":0,"y":105.3},{"i":"CHJ","t":28,"y":105.3},{"i":"CHJ","t":29,"y":103},{"i":"CHJ","t":29.9,"y":94.4},{"i":"CHJ","t":31.2,"y":106},{"i":"CHJ","t":32.6,"y":115.3},{"i":"CHJ","t":34,"y":103},{"i":"CHJ","t":34.9,"y":104.5},{"i":"CHJ","t":35.8,"y":106.3},{"i":"CHJ","t":36.8,"y":102.1},{"i":"CHJ","t":37.8,"y":107.8},{"i":"CHJ","t":39,"y":104},{"i":"CHJ","t":40.3,"y":106},{"i":"CHJ","t":41.8,"y":104.7},{"i":"CHJ","t":43.5,"y":105.6},{"i":"CHJ","t":46,"y":105.1},{"i":"CHJ","t":80,"y":105.3},
{"i":"ULJ","t":0,"y":131.6},{"i":"ULJ","t":22,"y":131.6},{"i":"ULJ","t":22.4,"y":130.3},{"i":"ULJ","t":23.4,"y":133},{"i":"ULJ","t":24.6,"y":131.2},{"i":"ULJ","t":26,"y":131.8},{"i":"ULJ","t":38,"y":131.6},{"i":"ULJ","t":39,"y":138.6},{"i":"ULJ","t":40.1,"y":123.6},{"i":"ULJ","t":41.3,"y":137.6},{"i":"ULJ","t":42.5,"y":129.1},{"i":"ULJ","t":43.6,"y":133.1},{"i":"ULJ","t":45,"y":130.8},{"i":"ULJ","t":46.5,"y":132.2},{"i":"ULJ","t":48,"y":131.2},{"i":"ULJ","t":50,"y":131.9},{"i":"ULJ","t":52,"y":131.4},{"i":"ULJ","t":80,"y":131.6},
{"i":"SEO","t":0,"y":148.8},{"i":"SEO","t":25,"y":148.8},{"i":"SEO","t":25.8,"y":146.5},{"i":"SEO","t":26.7,"y":150.3},{"i":"SEO","t":27.7,"y":146.3},{"i":"SEO","t":29.1,"y":151},{"i":"SEO","t":30.2,"y":147.8},{"i":"SEO","t":31.5,"y":149.6},{"i":"SEO","t":33,"y":148.5},{"i":"SEO","t":35,"y":149},{"i":"SEO","t":42,"y":148.8},{"i":"SEO","t":43.2,"y":150},{"i":"SEO","t":44.8,"y":147},{"i":"SEO","t":46.2,"y":150},{"i":"SEO","t":47.6,"y":147.7},{"i":"SEO","t":48.9,"y":149.8},{"i":"SEO","t":50.6,"y":146.6},{"i":"SEO","t":52,"y":149.8},{"i":"SEO","t":53.5,"y":148.3},{"i":"SEO","t":55,"y":149.2},{"i":"SEO","t":57,"y":148.6},{"i":"SEO","t":80,"y":148.8},
{"i":"HKU","t":0,"y":161.6},{"i":"HKU","t":27,"y":161.6},{"i":"HKU","t":27.4,"y":160.6},{"i":"HKU","t":29,"y":162.6},{"i":"HKU","t":30.5,"y":161.2},{"i":"HKU","t":31.5,"y":160.6},{"i":"HKU","t":33,"y":162},{"i":"HKU","t":35,"y":161.4},{"i":"HKU","t":44.5,"y":161.6},{"i":"HKU","t":45.5,"y":159},{"i":"HKU","t":46.5,"y":156.6},{"i":"HKU","t":47.6,"y":167.6},{"i":"HKU","t":48.7,"y":158.6},{"i":"HKU","t":49.9,"y":168.6},{"i":"HKU","t":51,"y":158.6},{"i":"HKU","t":52.1,"y":163.1},{"i":"HKU","t":53.3,"y":160},{"i":"HKU","t":54.5,"y":162.6},{"i":"HKU","t":56,"y":161},{"i":"HKU","t":58,"y":162},{"i":"HKU","t":80,"y":161.6},
{"i":"TJN","t":0,"y":181.5},{"i":"TJN","t":49.5,"y":181.5},{"i":"TJN","t":50.5,"y":182.5},{"i":"TJN","t":51.5,"y":175.5},{"i":"TJN","t":52.5,"y":186.5},{"i":"TJN","t":53.6,"y":175},{"i":"TJN","t":55,"y":192.5},{"i":"TJN","t":56.3,"y":176.5},{"i":"TJN","t":57.5,"y":183},{"i":"TJN","t":58.8,"y":180.5},{"i":"TJN","t":60.3,"y":182},{"i":"TJN","t":62,"y":181.2},{"i":"TJN","t":80,"y":181.5},
{"i":"GKP1","t":0,"y":200},{"i":"GKP1","t":54,"y":200},{"i":"GKP1","t":55.5,"y":199},{"i":"GKP1","t":56.4,"y":196.5},{"i":"GKP1","t":57.2,"y":206},{"i":"GKP1","t":58.3,"y":192},{"i":"GKP1","t":60.2,"y":211.5},{"i":"GKP1","t":62,"y":192},{"i":"GKP1","t":63.8,"y":203.2},{"i":"GKP1","t":65.8,"y":196},{"i":"GKP1","t":67.2,"y":202},{"i":"GKP1","t":69,"y":198.5},{"i":"GKP1","t":70.5,"y":200.8},{"i":"GKP1","t":72,"y":199.5},{"i":"GKP1","t":74,"y":200.3},{"i":"GKP1","t":80,"y":200},
{"i":"SES","t":0,"y":213.6},{"i":"SES","t":36,"y":213.6},{"i":"SES","t":37.2,"y":212.5},{"i":"SES","t":38.3,"y":214.8},{"i":"SES","t":39.7,"y":214.3},{"i":"SES","t":41,"y":213.6},{"i":"SES","t":61,"y":213.6},{"i":"SES","t":62.2,"y":212},{"i":"SES","t":63.3,"y":215.6},{"i":"SES","t":64.7,"y":212.5},{"i":"SES","t":66,"y":214.8},{"i":"SES","t":67.7,"y":212.8},{"i":"SES","t":70.5,"y":211.2},{"i":"SES","t":72.6,"y":216},{"i":"SES","t":74.2,"y":212.8},{"i":"SES","t":75.8,"y":214.6},{"i":"SES","t":77.5,"y":213},{"i":"SES","t":80,"y":213.6},
{"i":"NPR","t":0,"y":238.4},{"i":"NPR","t":64,"y":238.4},{"i":"NPR","t":66.5,"y":238},{"i":"NPR","t":67.7,"y":239.4},{"i":"NPR","t":69.1,"y":233.6},{"i":"NPR","t":70.4,"y":245.4},{"i":"NPR","t":71.7,"y":233.4},{"i":"NPR","t":73.1,"y":242.4},{"i":"NPR","t":74.5,"y":235.9},{"i":"NPR","t":75.8,"y":239.9},{"i":"NPR","t":77,"y":237.4},{"i":"NPR","t":78.5,"y":239.2},{"i":"NPR","t":80,"y":238}
],
"N_o":[
{"i":"SND","t":10.5,"y":62},{"i":"SND","t":11.3,"y":66.2},{"i":"SND","t":12.4,"y":55.7},{"i":"SND","t":13.5,"y":64.3},{"i":"SND","t":14.6,"y":56.7},{"i":"SND","t":15.7,"y":63.3},{"i":"SND","t":16.8,"y":56.7},{"i":"SND","t":17.8,"y":63.3},{"i":"SND","t":18.9,"y":55.7},{"i":"SND","t":20,"y":65},{"i":"SND","t":20.6,"y":50.5},{"i":"SND","t":21.7,"y":66},{"i":"SND","t":22.6,"y":63},{"i":"SND","t":23.8,"y":59},{"i":"SND","t":25,"y":64},{"i":"SND","t":26.3,"y":61.2},{"i":"SND","t":27.6,"y":60.5},{"i":"SND","t":28.7,"y":62.8},{"i":"SND","t":29.9,"y":61.3},{"i":"SND","t":31.2,"y":62.6},{"i":"SND","t":32.5,"y":61.4},{"i":"SND","t":33.8,"y":62.6},{"i":"SND","t":35.1,"y":61.3},{"i":"SND","t":36.4,"y":62.5},{"i":"SND","t":37.7,"y":61.5},{"i":"SND","t":39,"y":62.6},{"i":"SND","t":40.3,"y":61.4},{"i":"SND","t":41.6,"y":62.5},{"i":"SND","t":42.9,"y":61.3},{"i":"SND","t":44.2,"y":62.6},{"i":"SND","t":45.5,"y":61.4},{"i":"SND","t":46.8,"y":62.5},{"i":"SND","t":48.1,"y":61.2},{"i":"SND","t":49.4,"y":62.6},{"i":"SND","t":50.7,"y":61.5},{"i":"SND","t":52,"y":62.5},{"i":"SND","t":53.3,"y":61.3},{"i":"SND","t":54.6,"y":62.5},{"i":"SND","t":56,"y":60.7},{"i":"SND","t":57.3,"y":62.7},{"i":"SND","t":58.6,"y":61.3},{"i":"SND","t":59.9,"y":62.5},{"i":"SND","t":61.2,"y":61.2},{"i":"SND","t":62.5,"y":62.6},{"i":"SND","t":63.8,"y":60.6},{"i":"SND","t":65.1,"y":62.7},{"i":"SND","t":66.4,"y":60.9},{"i":"SND","t":67.7,"y":62.6},{"i":"SND","t":69,"y":61.1},{"i":"SND","t":70.3,"y":62.6},{"i":"SND","t":71.6,"y":61.2},{"i":"SND","t":72.9,"y":62.5},{"i":"SND","t":74.2,"y":61.4},{"i":"SND","t":75.5,"y":62.4},{"i":"SND","t":76.8,"y":61.3},{"i":"SND","t":78.1,"y":62.5},{"i":"SND","t":79.4,"y":61.5},{"i":"SND","t":80,"y":62},
{"i":"CHC","t":11,"y":68.7},{"i":"CHC","t":11.9,"y":70.6},{"i":"CHC","t":13,"y":68},{"i":"CHC","t":14,"y":67.5},{"i":"CHC","t":15.2,"y":69.5},{"i":"CHC","t":16.3,"y":67.8},{"i":"CHC","t":17.5,"y":69.5},{"i":"CHC","t":18.7,"y":67.5},{"i":"CHC","t":20,"y":66.8},{"i":"CHC","t":21,"y":67.5},{"i":"CHC","t":22.2,"y":86.7},{"i":"CHC","t":23.8,"y":61},{"i":"CHC","t":25,"y":71.5},{"i":"CHC","t":26.2,"y":66.2},{"i":"CHC","t":27.3,"y":70.9},{"i":"CHC","t":28.5,"y":67},{"i":"CHC","t":29.7,"y":70.4},{"i":"CHC","t":30.9,"y":67.3},{"i":"CHC","t":32.2,"y":69.9},{"i":"CHC","t":33.5,"y":67.4},{"i":"CHC","t":34.8,"y":70},{"i":"CHC","t":36.1,"y":67.6},{"i":"CHC","t":37.4,"y":69.8},{"i":"CHC","t":38.7,"y":67.5},{"i":"CHC","t":40,"y":69.9},{"i":"CHC","t":41.3,"y":67.7},{"i":"CHC","t":42.6,"y":69.8},{"i":"CHC","t":43.9,"y":67.6},{"i":"CHC","t":45.2,"y":69.7},{"i":"CHC","t":46.5,"y":67.5},{"i":"CHC","t":47.8,"y":69.9},{"i":"CHC","t":49.1,"y":67.7},{"i":"CHC","t":50.4,"y":69.6},{"i":"CHC","t":51.7,"y":67.4},{"i":"CHC","t":53,"y":69.8},{"i":"CHC","t":54.3,"y":67.6},{"i":"CHC","t":55.6,"y":69.7},{"i":"CHC","t":56.9,"y":67.7},{"i":"CHC","t":58.2,"y":69.6},{"i":"CHC","t":59.5,"y":67.5},{"i":"CHC","t":60.8,"y":69.8},{"i":"CHC","t":62.1,"y":67.4},{"i":"CHC","t":63.4,"y":69.6},{"i":"CHC","t":64.7,"y":67.6},{"i":"CHC","t":66,"y":69.7},{"i":"CHC","t":67.3,"y":67.5},{"i":"CHC","t":68.6,"y":69.6},{"i":"CHC","t":69.9,"y":67.6},{"i":"CHC","t":71.2,"y":69.8},{"i":"CHC","t":72.5,"y":67.4},{"i":"CHC","t":73.8,"y":69.7},{"i":"CHC","t":75.1,"y":67.7},{"i":"CHC","t":76.4,"y":69.6},{"i":"CHC","t":77.7,"y":67.6},{"i":"CHC","t":79,"y":69.6},{"i":"CHC","t":80,"y":68.5},
{"i":"CHJ","t":18,"y":105.3},{"i":"CHJ","t":22,"y":105.1},{"i":"CHJ","t":26,"y":105.5},{"i":"CHJ","t":29.4,"y":104.8},{"i":"CHJ","t":30.4,"y":103},{"i":"CHJ","t":31.2,"y":115.3},{"i":"CHJ","t":32.5,"y":99.3},{"i":"CHJ","t":33.4,"y":107.8},{"i":"CHJ","t":34.2,"y":96.3},{"i":"CHJ","t":35.3,"y":108.7},{"i":"CHJ","t":36.3,"y":103},{"i":"CHJ","t":37.4,"y":106.9},{"i":"CHJ","t":38.5,"y":103.6},{"i":"CHJ","t":39.6,"y":106.5},{"i":"CHJ","t":40.8,"y":104.3},{"i":"CHJ","t":42,"y":106.1},{"i":"CHJ","t":43.3,"y":104.5},{"i":"CHJ","t":44.6,"y":106},{"i":"CHJ","t":45.9,"y":104.6},{"i":"CHJ","t":47.2,"y":105.9},{"i":"CHJ","t":48.5,"y":104.6},{"i":"CHJ","t":49.8,"y":106},{"i":"CHJ","t":51.1,"y":104.5},{"i":"CHJ","t":52.4,"y":105.9},{"i":"CHJ","t":53.7,"y":104.7},{"i":"CHJ","t":55,"y":105.9},{"i":"CHJ","t":56.3,"y":104.6},{"i":"CHJ","t":57.6,"y":105.8},{"i":"CHJ","t":58.9,"y":104.7},{"i":"CHJ","t":60.2,"y":105.9},{"i":"CHJ","t":61.5,"y":104.6},{"i":"CHJ","t":62.8,"y":105.8},{"i":"CHJ","t":64.1,"y":104.7},{"i":"CHJ","t":65.4,"y":105.9},{"i":"CHJ","t":66.7,"y":104.8},{"i":"CHJ","t":68,"y":105.8},{"i":"CHJ","t":69.3,"y":104.6},{"i":"CHJ","t":70.6,"y":105.9},{"i":"CHJ","t":71.9,"y":104.8},{"i":"CHJ","t":73.2,"y":105.8},{"i":"CHJ","t":74.5,"y":104.7},{"i":"CHJ","t":75.8,"y":105.9},{"i":"CHJ","t":77.1,"y":104.8},{"i":"CHJ","t":78.4,"y":105.8},{"i":"CHJ","t":79.4,"y":104.2},{"i":"CHJ","t":80,"y":105.6},
{"i":"ULJ","t":21.5,"y":131.6},{"i":"ULJ","t":22.2,"y":134.6},{"i":"ULJ","t":23.1,"y":128},{"i":"ULJ","t":24.4,"y":133},{"i":"ULJ","t":26,"y":129.9},{"i":"ULJ","t":27.1,"y":132.8},{"i":"ULJ","t":28.5,"y":131.2},{"i":"ULJ","t":30,"y":131.9},{"i":"ULJ","t":33,"y":131.3},{"i":"ULJ","t":36,"y":131.9},{"i":"ULJ","t":37.2,"y":131.8},{"i":"ULJ","t":38,"y":135.6},{"i":"ULJ","t":39.6,"y":124.2},{"i":"ULJ","t":40.7,"y":134.6},{"i":"ULJ","t":41.5,"y":126.1},{"i":"ULJ","t":42.5,"y":135.6},{"i":"ULJ","t":43.6,"y":127},{"i":"ULJ","t":44.7,"y":134.2},{"i":"ULJ","t":46.1,"y":127},{"i":"ULJ","t":47.2,"y":133.8},{"i":"ULJ","t":48.6,"y":128.9},{"i":"ULJ","t":49.9,"y":133.4},{"i":"ULJ","t":51,"y":130.3},{"i":"ULJ","t":52.1,"y":130.5},{"i":"ULJ","t":53.2,"y":132.4},{"i":"ULJ","t":54.3,"y":132.6},{"i":"ULJ","t":55.6,"y":130.4},{"i":"ULJ","t":56.9,"y":132.5},{"i":"ULJ","t":58.2,"y":130.6},{"i":"ULJ","t":59.5,"y":132.4},{"i":"ULJ","t":60.8,"y":130.5},{"i":"ULJ","t":62.1,"y":132.6},{"i":"ULJ","t":63.4,"y":130.6},{"i":"ULJ","t":64.7,"y":132.3},{"i":"ULJ","t":66,"y":130.4},{"i":"ULJ","t":67.3,"y":132.5},{"i":"ULJ","t":68.6,"y":130.8},{"i":"ULJ","t":69.5,"y":132.6},{"i":"ULJ","t":70.6,"y":128.9},{"i":"ULJ","t":71.9,"y":133.2},{"i":"ULJ","t":73.2,"y":130.7},{"i":"ULJ","t":74.5,"y":132.4},{"i":"ULJ","t":75.8,"y":130.9},{"i":"ULJ","t":77.1,"y":132.3},{"i":"ULJ","t":78.4,"y":131},{"i":"ULJ","t":79.5,"y":132},{"i":"ULJ","t":80,"y":131.6},
{"i":"SEO","t":25,"y":148.8},{"i":"SEO","t":27.3,"y":149.3},{"i":"SEO","t":30,"y":148.4},{"i":"SEO","t":33,"y":149.2},{"i":"SEO","t":36,"y":148.4},{"i":"SEO","t":39,"y":149.2},{"i":"SEO","t":41.7,"y":149.3},{"i":"SEO","t":42.8,"y":141.8},{"i":"SEO","t":43.9,"y":151.8},{"i":"SEO","t":44.6,"y":154.5},{"i":"SEO","t":45.6,"y":145.8},{"i":"SEO","t":46.9,"y":142.3},{"i":"SEO","t":47.9,"y":157.8},{"i":"SEO","t":49,"y":146.8},{"i":"SEO","t":50,"y":150.3},{"i":"SEO","t":51.1,"y":146.3},{"i":"SEO","t":52.5,"y":149.8},{"i":"SEO","t":54,"y":147.3},{"i":"SEO","t":55.3,"y":150},{"i":"SEO","t":56.6,"y":147.9},{"i":"SEO","t":57.9,"y":149.8},{"i":"SEO","t":59.2,"y":148},{"i":"SEO","t":60.5,"y":149.6},{"i":"SEO","t":61.8,"y":147.9},{"i":"SEO","t":63.1,"y":149.7},{"i":"SEO","t":64.4,"y":148.1},{"i":"SEO","t":65.7,"y":149.6},{"i":"SEO","t":67,"y":147.9},{"i":"SEO","t":68.3,"y":149.7},{"i":"SEO","t":69.6,"y":148},{"i":"SEO","t":70.9,"y":149.5},{"i":"SEO","t":72.2,"y":148.1},{"i":"SEO","t":73.5,"y":149.6},{"i":"SEO","t":74.8,"y":148.2},{"i":"SEO","t":76.1,"y":149.5},{"i":"SEO","t":77.4,"y":148},{"i":"SEO","t":78.7,"y":149.4},{"i":"SEO","t":80,"y":148.6},
{"i":"HKU","t":26,"y":161.6},{"i":"HKU","t":27.6,"y":160.3},{"i":"HKU","t":28.8,"y":162.6},{"i":"HKU","t":30,"y":161.5},{"i":"HKU","t":31.4,"y":160.3},{"i":"HKU","t":32.4,"y":162.7},{"i":"HKU","t":33.8,"y":161.2},{"i":"HKU","t":37,"y":161.9},{"i":"HKU","t":41,"y":161.3},{"i":"HKU","t":44.5,"y":161.2},{"i":"HKU","t":45.6,"y":164.1},{"i":"HKU","t":46.9,"y":156.5},{"i":"HKU","t":47.6,"y":171.6},{"i":"HKU","t":48.9,"y":157.4},{"i":"HKU","t":50,"y":164.1},{"i":"HKU","t":51.2,"y":158.4},{"i":"HKU","t":52.7,"y":165},{"i":"HKU","t":54.1,"y":159.3},{"i":"HKU","t":55.4,"y":164.1},{"i":"HKU","t":56.7,"y":159.3},{"i":"HKU","t":58.1,"y":163.5},{"i":"HKU","t":59.4,"y":160.6},{"i":"HKU","t":60.8,"y":159.3},{"i":"HKU","t":62.1,"y":163},{"i":"HKU","t":63.4,"y":161.2},{"i":"HKU","t":64.7,"y":162.2},{"i":"HKU","t":66,"y":161},{"i":"HKU","t":67.3,"y":162.1},{"i":"HKU","t":68.6,"y":161},{"i":"HKU","t":69.9,"y":162.2},{"i":"HKU","t":71.2,"y":161.1},{"i":"HKU","t":72.5,"y":162},{"i":"HKU","t":73.8,"y":161},{"i":"HKU","t":75.1,"y":162.1},{"i":"HKU","t":76.4,"y":161.1},{"i":"HKU","t":77.7,"y":162.1},{"i":"HKU","t":79,"y":161.2},{"i":"HKU","t":80,"y":161.8},
{"i":"TJN","t":30,"y":181.5},{"i":"TJN","t":31.4,"y":180.7},{"i":"TJN","t":32.5,"y":182.2},{"i":"TJN","t":34,"y":181.3},{"i":"TJN","t":38,"y":181.8},{"i":"TJN","t":42,"y":181.3},{"i":"TJN","t":46,"y":181.8},{"i":"TJN","t":49.5,"y":181.2},{"i":"TJN","t":50.5,"y":180.2},{"i":"TJN","t":51.2,"y":182.7},{"i":"TJN","t":52.1,"y":188.2},{"i":"TJN","t":53,"y":177.7},{"i":"TJN","t":53.8,"y":187.2},{"i":"TJN","t":55.2,"y":172.9},{"i":"TJN","t":56.3,"y":188.2},{"i":"TJN","t":57.3,"y":179.6},{"i":"TJN","t":58.7,"y":183.2},{"i":"TJN","t":60,"y":179.6},{"i":"TJN","t":61.4,"y":183},{"i":"TJN","t":62.8,"y":180.8},{"i":"TJN","t":64.1,"y":180.4},{"i":"TJN","t":65.4,"y":182.4},{"i":"TJN","t":66.7,"y":180.6},{"i":"TJN","t":68,"y":182.3},{"i":"TJN","t":69.3,"y":180.8},{"i":"TJN","t":70.6,"y":182.2},{"i":"TJN","t":71.7,"y":180.3},{"i":"TJN","t":73,"y":182.4},{"i":"TJN","t":74.3,"y":180.9},{"i":"TJN","t":75.6,"y":182.2},{"i":"TJN","t":76.9,"y":180.8},{"i":"TJN","t":78.2,"y":182.1},{"i":"TJN","t":79.5,"y":180.9},{"i":"TJN","t":80,"y":181.3},
{"i":"GKP1","t":30,"y":200},{"i":"GKP1","t":31.4,"y":199.7},{"i":"GKP1","t":32.5,"y":200.5},{"i":"GKP1","t":33.6,"y":201.3},{"i":"GKP1","t":34.7,"y":199},{"i":"GKP1","t":35.8,"y":198.5},{"i":"GKP1","t":37,"y":200.8},{"i":"GKP1","t":38.5,"y":199.6},{"i":"GKP1","t":42,"y":200.3},{"i":"GKP1","t":46,"y":199.7},{"i":"GKP1","t":50,"y":200.3},{"i":"GKP1","t":54,"y":199.7},{"i":"GKP1","t":56,"y":200.3},{"i":"GKP1","t":57.6,"y":197.5},{"i":"GKP1","t":58.7,"y":201.3},{"i":"GKP1","t":60,"y":197.1},{"i":"GKP1","t":61,"y":201.9},{"i":"GKP1","t":62.5,"y":198.7},{"i":"GKP1","t":64.1,"y":200.6},{"i":"GKP1","t":65.7,"y":202.7},{"i":"GKP1","t":67.6,"y":197.5},{"i":"GKP1","t":69,"y":201},{"i":"GKP1","t":70.6,"y":198.1},{"i":"GKP1","t":71.9,"y":201},{"i":"GKP1","t":73.9,"y":199.4},{"i":"GKP1","t":75,"y":200.6},{"i":"GKP1","t":76.1,"y":198.5},{"i":"GKP1","t":77.7,"y":201.2},{"i":"GKP1","t":79,"y":199.3},{"i":"GKP1","t":80,"y":200},
{"i":"SES","t":34,"y":213.6},{"i":"SES","t":35.5,"y":213.4},{"i":"SES","t":37,"y":212.6},{"i":"SES","t":38.3,"y":214.2},{"i":"SES","t":40,"y":213.4},{"i":"SES","t":44,"y":213.9},{"i":"SES","t":48,"y":213.4},{"i":"SES","t":52,"y":213.8},{"i":"SES","t":56,"y":213.4},{"i":"SES","t":58.1,"y":212.5},{"i":"SES","t":59.8,"y":214.8},{"i":"SES","t":61.4,"y":215.5},{"i":"SES","t":63.6,"y":208.8},{"i":"SES","t":65,"y":216.5},{"i":"SES","t":66.3,"y":215.5},{"i":"SES","t":67.4,"y":211.3},{"i":"SES","t":68.7,"y":215.5},{"i":"SES","t":70.1,"y":212.1},{"i":"SES","t":71.2,"y":215.1},{"i":"SES","t":72.8,"y":211.7},{"i":"SES","t":74.1,"y":215.1},{"i":"SES","t":75.5,"y":212.1},{"i":"SES","t":77.1,"y":214.9},{"i":"SES","t":78.8,"y":212.8},{"i":"SES","t":80,"y":213.8},
{"i":"NPR","t":38,"y":238.4},{"i":"NPR","t":42,"y":238.2},{"i":"NPR","t":46,"y":238.6},{"i":"NPR","t":50,"y":238.2},{"i":"NPR","t":54,"y":238.6},{"i":"NPR","t":58,"y":238.2},{"i":"NPR","t":62,"y":239.4},{"i":"NPR","t":63.6,"y":238},{"i":"NPR","t":65.2,"y":237.5},{"i":"NPR","t":66.8,"y":239.4},{"i":"NPR","t":68,"y":237.6},{"i":"NPR","t":69,"y":242.2},{"i":"NPR","t":70.8,"y":228.9},{"i":"NPR","t":72.5,"y":247.9},{"i":"NPR","t":74,"y":228.9},{"i":"NPR","t":75.3,"y":242.4},{"i":"NPR","t":76.5,"y":235.9},{"i":"NPR","t":77.5,"y":235.4},{"i":"NPR","t":78.6,"y":240.3},{"i":"NPR","t":79.6,"y":237.5},{"i":"NPR","t":80,"y":238.2}
],
"N_s":[
{"i":"SND","t":0,"y":62},{"i":"SND","t":10.5,"y":62},{"i":"SND","t":11.3,"y":65},{"i":"SND","t":12.4,"y":57.5},{"i":"SND","t":13.5,"y":63.5},{"i":"SND","t":14.6,"y":58},{"i":"SND","t":15.7,"y":63},{"i":"SND","t":16.8,"y":58},{"i":"SND","t":17.8,"y":63},{"i":"SND","t":18.9,"y":58.5},{"i":"SND","t":19.7,"y":63},{"i":"SND","t":20.5,"y":50.2},{"i":"SND","t":21.5,"y":68},{"i":"SND","t":22.6,"y":61},{"i":"SND","t":23.8,"y":63.5},{"i":"SND","t":25,"y":61.2},{"i":"SND","t":26.5,"y":62.6},{"i":"SND","t":28,"y":61.6},{"i":"SND","t":30,"y":62.3},{"i":"SND","t":80,"y":62},
{"i":"CHC","t":0,"y":68.7},{"i":"CHC","t":11,"y":68.7},{"i":"CHC","t":12,"y":69.8},{"i":"CHC","t":14,"y":68},{"i":"CHC","t":16,"y":69.3},{"i":"CHC","t":18,"y":68.2},{"i":"CHC","t":20,"y":67.5},{"i":"CHC","t":20.8,"y":66.5},{"i":"CHC","t":21.6,"y":82},{"i":"CHC","t":22.8,"y":64.8},{"i":"CHC","t":24,"y":71.5},{"i":"CHC","t":25.3,"y":67.2},{"i":"CHC","t":26.6,"y":69.6},{"i":"CHC","t":28,"y":68.2},{"i":"CHC","t":30,"y":69},{"i":"CHC","t":80,"y":68.7},
{"i":"CHJ","t":0,"y":105.3},{"i":"CHJ","t":29,"y":105.3},{"i":"CHJ","t":30.2,"y":103.8},{"i":"CHJ","t":31.1,"y":113.3},{"i":"CHJ","t":32.3,"y":99.3},{"i":"CHJ","t":33.3,"y":108.3},{"i":"CHJ","t":34.2,"y":98.3},{"i":"CHJ","t":35.3,"y":109.3},{"i":"CHJ","t":36.5,"y":103.8},{"i":"CHJ","t":37.7,"y":106.2},{"i":"CHJ","t":39,"y":104.8},{"i":"CHJ","t":40.5,"y":105.6},{"i":"CHJ","t":42,"y":105.1},{"i":"CHJ","t":80,"y":105.3},
{"i":"ULJ","t":0,"y":131.6},{"i":"ULJ","t":21.5,"y":131.6},{"i":"ULJ","t":22.2,"y":133.6},{"i":"ULJ","t":23.1,"y":128.6},{"i":"ULJ","t":24.4,"y":132.6},{"i":"ULJ","t":26,"y":130.8},{"i":"ULJ","t":27.5,"y":132},{"i":"ULJ","t":29,"y":131.4},{"i":"ULJ","t":37.3,"y":131.6},{"i":"ULJ","t":38,"y":134.6},{"i":"ULJ","t":39.6,"y":125.6},{"i":"ULJ","t":40.7,"y":136.6},{"i":"ULJ","t":41.7,"y":126.6},{"i":"ULJ","t":42.7,"y":135.6},{"i":"ULJ","t":43.8,"y":128.6},{"i":"ULJ","t":45,"y":133.6},{"i":"ULJ","t":46.3,"y":130.2},{"i":"ULJ","t":47.6,"y":132.4},{"i":"ULJ","t":49,"y":131},{"i":"ULJ","t":51,"y":131.9},{"i":"ULJ","t":80,"y":131.6},
{"i":"SEO","t":0,"y":148.8},{"i":"SEO","t":41.5,"y":148.8},{"i":"SEO","t":42.5,"y":143.3},{"i":"SEO","t":43.6,"y":153.8},{"i":"SEO","t":44.8,"y":146.8},{"i":"SEO","t":46,"y":152.8},{"i":"SEO","t":47,"y":143.8},{"i":"SEO","t":48,"y":155.8},{"i":"SEO","t":49.2,"y":146.3},{"i":"SEO","t":50.5,"y":151.3},{"i":"SEO","t":52,"y":147.5},{"i":"SEO","t":53.5,"y":149.5},{"i":"SEO","t":55,"y":148.4},{"i":"SEO","t":57,"y":149.1},{"i":"SEO","t":80,"y":148.8},
{"i":"HKU","t":0,"y":161.6},{"i":"HKU","t":44.5,"y":161.6},{"i":"HKU","t":45.8,"y":163.6},{"i":"HKU","t":46.9,"y":157.6},{"i":"HKU","t":48.1,"y":167.6},{"i":"HKU","t":49.2,"y":158.6},{"i":"HKU","t":50.5,"y":163.6},{"i":"HKU","t":52,"y":160.1},{"i":"HKU","t":53.5,"y":162.4},{"i":"HKU","t":55,"y":161.1},{"i":"HKU","t":57,"y":161.9},{"i":"HKU","t":80,"y":161.6},
{"i":"TJN","t":0,"y":181.5},{"i":"TJN","t":50,"y":181.5},{"i":"TJN","t":51,"y":181},{"i":"TJN","t":52,"y":187.2},{"i":"TJN","t":53.1,"y":174.8},{"i":"TJN","t":54,"y":185.3},{"i":"TJN","t":55.2,"y":172.5},{"i":"TJN","t":56.3,"y":187.2},{"i":"TJN","t":57.5,"y":180},{"i":"TJN","t":58.8,"y":182.5},{"i":"TJN","t":60.2,"y":181},{"i":"TJN","t":62,"y":181.8},{"i":"TJN","t":80,"y":181.5},
{"i":"GKP1","t":0,"y":200},{"i":"GKP1","t":56,"y":200},{"i":"GKP1","t":57.6,"y":198.5},{"i":"GKP1","t":58.7,"y":201},{"i":"GKP1","t":60,"y":198},{"i":"GKP1","t":61,"y":201.3},{"i":"GKP1","t":62.5,"y":199},{"i":"GKP1","t":64.1,"y":200.6},{"i":"GKP1","t":65.7,"y":201.8},{"i":"GKP1","t":67.6,"y":198.6},{"i":"GKP1","t":69,"y":200.8},{"i":"GKP1","t":70.6,"y":199},{"i":"GKP1","t":72,"y":200.6},{"i":"GKP1","t":74,"y":199.7},{"i":"GKP1","t":80,"y":200},
{"i":"SES","t":0,"y":213.6},{"i":"SES","t":57,"y":213.6},{"i":"SES","t":58.1,"y":212.8},{"i":"SES","t":59.8,"y":214.5},{"i":"SES","t":61.4,"y":215},{"i":"SES","t":63.6,"y":209.6},{"i":"SES","t":65,"y":216},{"i":"SES","t":66.3,"y":214.8},{"i":"SES","t":67.4,"y":211.8},{"i":"SES","t":68.7,"y":215.2},{"i":"SES","t":70.1,"y":212.5},{"i":"SES","t":71.4,"y":214.6},{"i":"SES","t":72.8,"y":212.4},{"i":"SES","t":74.2,"y":214.5},{"i":"SES","t":75.7,"y":212.8},{"i":"SES","t":77.2,"y":214.3},{"i":"SES","t":80,"y":213.6},
{"i":"NPR","t":0,"y":238.4},{"i":"NPR","t":63,"y":238.4},{"i":"NPR","t":65,"y":238},{"i":"NPR","t":66.8,"y":239.2},{"i":"NPR","t":67.8,"y":236.8},{"i":"NPR","t":68.8,"y":242.2},{"i":"NPR","t":70,"y":235.4},{"i":"NPR","t":71.2,"y":242.4},{"i":"NPR","t":72.5,"y":234.4},{"i":"NPR","t":73.9,"y":241.4},{"i":"NPR","t":75.2,"y":236.2},{"i":"NPR","t":76.6,"y":239.9},{"i":"NPR","t":78,"y":237},{"i":"NPR","t":79.3,"y":239.4},{"i":"NPR","t":80,"y":238.3}
]
},
"columns":2,
"spacing":69,
"bounds":"flush",
"concat":[
{"width":245,"height":350,
"layer":[
{"data":{"name":"U_o"},"mark":{"type":"line","interpolate":"monotone","stroke":"black","strokeWidth":0.9,"clip":true},
"encoding":{"x":{"field":"t","type":"quantitative","scale":{"domain":[0,80],"nice":false,"zero":false},"axis":{"orient":"bottom","values":[0,5,10,15,20,25,30,35,40,45,50,55,60,65,70,75,80],"labelExpr":"datum.value % 20 == 0 ? datum.label : ''","title":"Time (sec)","labelPadding":1,"titlePadding":2}},
"y":{"field":"y","type":"quantitative","scale":{"domain":[50,250],"reverse":true,"nice":false,"zero":false},"axis":{"orient":"left","values":[50,60,70,80,90,100,110,120,130,140,150,160,170,180,190,200,210,220,230,240,250],"labelExpr":"datum.value % 50 == 0 ? datum.label : ''","title":"Distance (km)","labelPadding":5,"titlePadding":4}},
"detail":{"field":"i"}}},
{"data":{"name":"U_s"},"mark":{"type":"line","interpolate":"monotone","stroke":"#e3262b","strokeWidth":1.2,"clip":true},
"encoding":{"x":{"field":"t","type":"quantitative","axis":{"orient":"top","values":[0,5,10,15,20,25,30,35,40,45,50,55,60,65,70,75,80],"labels":false,"title":null}},
"y":{"field":"y","type":"quantitative","axis":{"orient":"right","values":[50,60,70,80,90,100,110,120,130,140,150,160,170,180,190,200,210,220,230,240,250],"labels":false,"title":null}},
"detail":{"field":"i"}}},
{"data":{"name":"lab"},"mark":{"type":"text","align":"left","baseline":"alphabetic","dx":2,"dy":-1.5,"font":"Liberation Sans","fontSize":9,"fill":"black"},
"encoding":{"x":{"datum":0,"type":"quantitative","axis":null},"y":{"field":"y","type":"quantitative","axis":null},"text":{"field":"s"}}},
{"data":{"values":[{"s":"U–D 0.02_0.5 Hz"}]},"mark":{"type":"text","align":"right","baseline":"top","dx":-2,"dy":2,"font":"Liberation Sans","fontSize":15,"fontWeight":"bold","fill":"black"},
"encoding":{"x":{"datum":80,"type":"quantitative","axis":null},"y":{"datum":50,"type":"quantitative","axis":null},"text":{"field":"s"}}}
],
"resolve":{"axis":{"x":"independent","y":"independent"}}},
{"width":245,"height":350,
"layer":[
{"data":{"name":"E_o"},"mark":{"type":"line","interpolate":"monotone","stroke":"black","strokeWidth":0.9,"clip":true},
"encoding":{"x":{"field":"t","type":"quantitative","scale":{"domain":[0,80],"nice":false,"zero":false},"axis":{"orient":"bottom","values":[0,5,10,15,20,25,30,35,40,45,50,55,60,65,70,75,80],"labelExpr":"datum.value % 20 == 0 ? datum.label : ''","title":"Time (sec)","labelPadding":1,"titlePadding":2}},
"y":{"field":"y","type":"quantitative","scale":{"domain":[50,250],"reverse":true,"nice":false,"zero":false},"axis":{"orient":"left","values":[50,60,70,80,90,100,110,120,130,140,150,160,170,180,190,200,210,220,230,240,250],"labelExpr":"datum.value % 50 == 0 ? datum.label : ''","title":"Distance (km)","labelPadding":5,"titlePadding":4}},
"detail":{"field":"i"}}},
{"data":{"name":"E_s"},"mark":{"type":"line","interpolate":"monotone","stroke":"#e3262b","strokeWidth":1.2,"clip":true},
"encoding":{"x":{"field":"t","type":"quantitative","axis":{"orient":"top","values":[0,5,10,15,20,25,30,35,40,45,50,55,60,65,70,75,80],"labels":false,"title":null}},
"y":{"field":"y","type":"quantitative","axis":{"orient":"right","values":[50,60,70,80,90,100,110,120,130,140,150,160,170,180,190,200,210,220,230,240,250],"labels":false,"title":null}},
"detail":{"field":"i"}}},
{"data":{"name":"lab"},"mark":{"type":"text","align":"left","baseline":"alphabetic","dx":2,"dy":-1.5,"font":"Liberation Sans","fontSize":9,"fill":"black"},
"encoding":{"x":{"datum":0,"type":"quantitative","axis":null},"y":{"field":"y","type":"quantitative","axis":null},"text":{"field":"s"}}},
{"data":{"values":[{"s":"E–W 0.02_0.5 Hz"}]},"mark":{"type":"text","align":"right","baseline":"top","dx":-2,"dy":2,"font":"Liberation Sans","fontSize":15,"fontWeight":"bold","fill":"black"},
"encoding":{"x":{"datum":80,"type":"quantitative","axis":null},"y":{"datum":50,"type":"quantitative","axis":null},"text":{"field":"s"}}}
],
"resolve":{"axis":{"x":"independent","y":"independent"}}},
{"width":245,"height":350,
"layer":[
{"data":{"name":"N_o"},"mark":{"type":"line","interpolate":"monotone","stroke":"black","strokeWidth":0.9,"clip":true},
"encoding":{"x":{"field":"t","type":"quantitative","scale":{"domain":[0,80],"nice":false,"zero":false},"axis":{"orient":"bottom","values":[0,5,10,15,20,25,30,35,40,45,50,55,60,65,70,75,80],"labelExpr":"datum.value % 20 == 0 ? datum.label : ''","title":"Time (sec)","labelPadding":1,"titlePadding":2}},
"y":{"field":"y","type":"quantitative","scale":{"domain":[50,250],"reverse":true,"nice":false,"zero":false},"axis":{"orient":"left","values":[50,60,70,80,90,100,110,120,130,140,150,160,170,180,190,200,210,220,230,240,250],"labelExpr":"datum.value % 50 == 0 ? datum.label : ''","title":"Distance (km)","labelPadding":5,"titlePadding":4}},
"detail":{"field":"i"}}},
{"data":{"name":"N_s"},"mark":{"type":"line","interpolate":"monotone","stroke":"#e3262b","strokeWidth":1.2,"clip":true},
"encoding":{"x":{"field":"t","type":"quantitative","axis":{"orient":"top","values":[0,5,10,15,20,25,30,35,40,45,50,55,60,65,70,75,80],"labels":false,"title":null}},
"y":{"field":"y","type":"quantitative","axis":{"orient":"right","values":[50,60,70,80,90,100,110,120,130,140,150,160,170,180,190,200,210,220,230,240,250],"labels":false,"title":null}},
"detail":{"field":"i"}}},
{"data":{"name":"lab"},"mark":{"type":"text","align":"left","baseline":"alphabetic","dx":2,"dy":-1.5,"font":"Liberation Sans","fontSize":9,"fill":"black"},
"encoding":{"x":{"datum":0,"type":"quantitative","axis":null},"y":{"field":"y","type":"quantitative","axis":null},"text":{"field":"s"}}},
{"data":{"values":[{"s":"N–S 0.02_0.5 Hz"}]},"mark":{"type":"text","align":"right","baseline":"top","dx":-2,"dy":2,"font":"Liberation Sans","fontSize":15,"fontWeight":"bold","fill":"black"},
"encoding":{"x":{"datum":80,"type":"quantitative","axis":null},"y":{"datum":50,"type":"quantitative","axis":null},"text":{"field":"s"}}}
],
"resolve":{"axis":{"x":"independent","y":"independent"}}}
]
}
